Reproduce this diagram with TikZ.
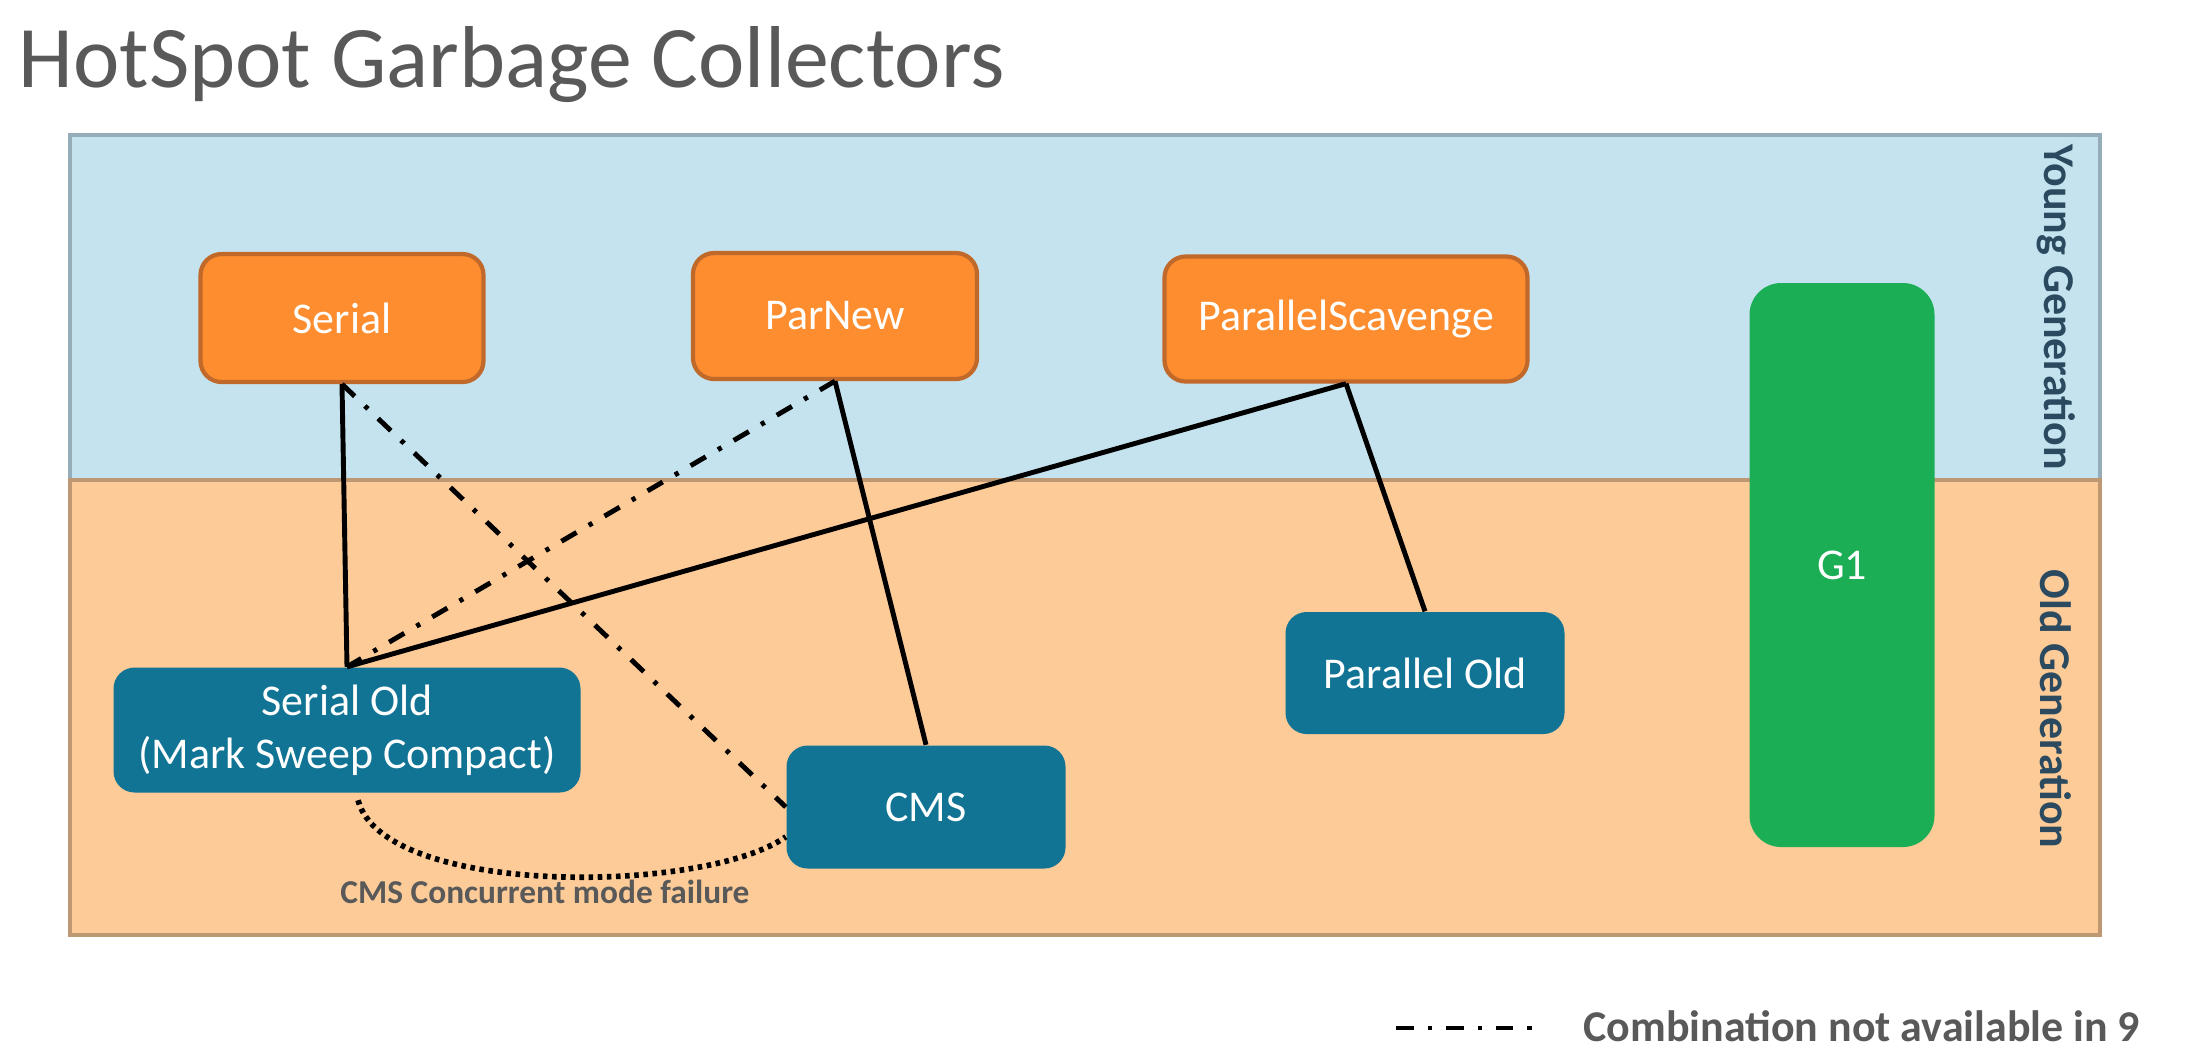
\documentclass[tikz,border=0pt]{standalone}
\usepackage{fontspec}
\setmainfont{Carlito}
\definecolor{youngfill}{HTML}{C5E3EE}
\definecolor{youngline}{HTML}{95ADB9}
\definecolor{oldfill}{HTML}{FDCB98}
\definecolor{oldline}{HTML}{BE9873}
\definecolor{orangefill}{HTML}{FD8D2E}
\definecolor{orangeline}{HTML}{C0692A}
\definecolor{tealfill}{HTML}{117494}
\definecolor{greenfill}{HTML}{1BAE55}
\definecolor{titlegray}{HTML}{595959}
\definecolor{genblue}{HTML}{2B4A5F}
\begin{document}
\begin{tikzpicture}
    % Define styles
    \tikzset{
        region/.style={line width=1.2pt},
        collector/.style={rounded corners=6pt, text=white, align=center, inner sep=0pt,
            font=\fontsize{12.5}{15}\selectfont},
        youngbox/.style={collector, fill=orangefill, draw=orangeline, line width=1.2pt},
        oldbox/.style={collector, fill=tealfill},
        combo/.style={line width=1.4pt, black},
        notin9/.style={combo, dash pattern=on 5pt off 4pt on 1.2pt off 4pt},
        failure/.style={line width=1.6pt, dash pattern=on 1.3pt off 1.3pt},
        genlabel/.style={font=\bfseries\fontsize{12.5}{15}\selectfont, text=genblue},
        note/.style={font=\bfseries\fontsize{9.5}{11}\selectfont, text=titlegray}
    }
    \useasboundingbox (0,0) rectangle (22,-10.58);

    % Title
    \node[anchor=base west, inner sep=0pt, text=titlegray,
        font=\fontsize{25}{30}\selectfont] (title) at (0.18,-0.87) {HotSpot Garbage Collectors};

    % Generation regions
    \draw[region, fill=youngfill, draw=youngline] (0.70,-1.35) rectangle (21.00,-4.80);
    \draw[region, fill=oldfill, draw=oldline] (0.70,-4.80) rectangle (21.00,-9.35);
    \node[genlabel, rotate=-90] (younglabel) at (20.56,-3.07) {Young Generation};
    \node[genlabel, rotate=-90] (oldlabel) at (20.56,-7.09) {Old Generation};

    % Young collectors
    \node[youngbox, minimum width=2.83cm, minimum height=1.28cm] (serial) at (3.42,-3.18) {Serial};
    \node[youngbox, minimum width=2.84cm, minimum height=1.26cm] (parnew) at (8.35,-3.16) {ParNew};
    \node[youngbox, minimum width=3.63cm, minimum height=1.25cm] (pscavenge) at (13.46,-3.19) {ParallelScavenge};

    % Old collectors
    \node[oldbox, minimum width=4.67cm, minimum height=1.25cm] (serialold) at (3.47,-7.30) {Serial Old\\(Mark Sweep Compact)};
    \node[oldbox, minimum width=2.79cm, minimum height=1.23cm] (cms) at (9.26,-8.07) {CMS};
    \node[oldbox, minimum width=2.79cm, minimum height=1.22cm] (parold) at (14.25,-6.73) {Parallel Old};

    % G1 spans both generations
    \node[collector, rounded corners=9pt, fill=greenfill, minimum width=1.85cm, minimum height=5.64cm] (g1) at (18.42,-5.65) {G1};

    % Combinations
    \draw[combo] (serial.south) -- (serialold.north);
    \draw[combo] (parnew.south) -- (cms.north);
    \draw[combo] (pscavenge.south) -- (serialold.north);
    \draw[combo] (pscavenge.south) -- (parold.north);
    \draw[notin9] (serial.south) -- (cms.west);
    \draw[notin9] (parnew.south) -- (serialold.north);

    % Concurrent mode failure fallback
    \draw[failure] (serialold.south) ++(0.11,-0.07) to[out=-75, in=-145, looseness=0.6] (cms.192);
    \node[note] (failnote) at (5.45,-8.92) {CMS Concurrent mode failure};

    % Legend
    \coordinate (legstart) at (13.96,-10.28);
    \coordinate (legend) at (15.42,-10.28);
    \draw[notin9] (legstart) -- (legend);
    \node[note, anchor=west, inner sep=0pt, font=\bfseries\fontsize{12.5}{15}\selectfont] (legtext) at (15.83,-10.26) {Combination not available in 9};
\end{tikzpicture}
\end{document}
